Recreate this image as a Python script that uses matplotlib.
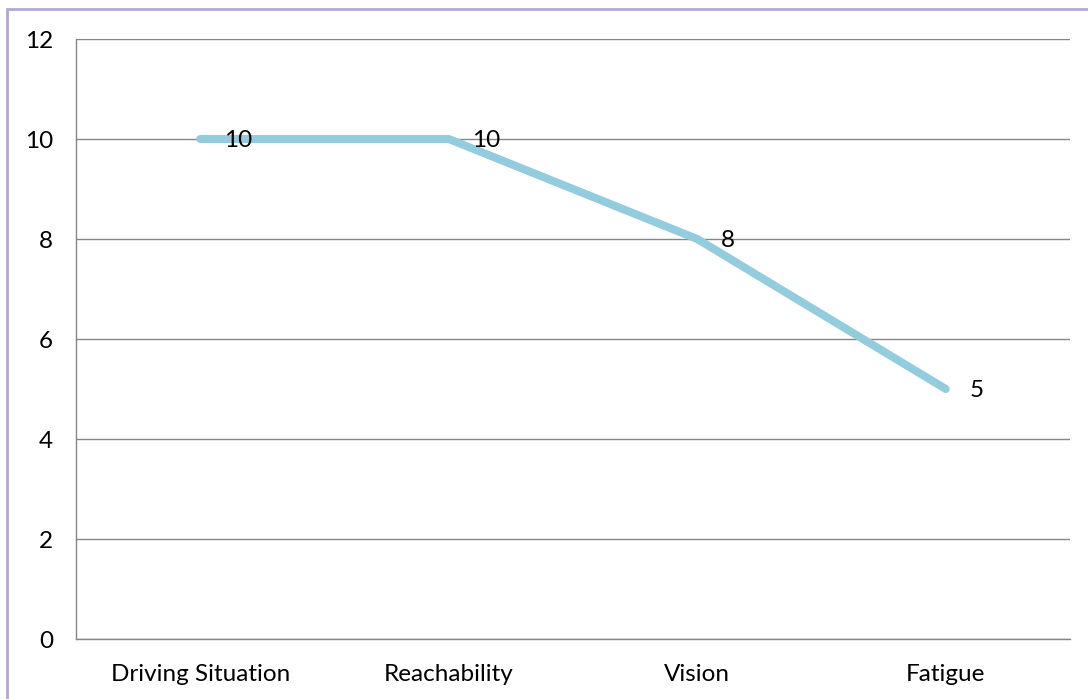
import matplotlib
matplotlib.use("Agg")
import matplotlib.pyplot as plt
from matplotlib.patches import Rectangle

categories = ["Driving Situation", "Reachability", "Vision", "Fatigue"]
values = [10, 10, 8, 5]
y_ticks = [0, 2, 4, 6, 8, 10, 12]

plt.rcParams["font.family"] = ["Lato", "DejaVu Sans"]

W, H = 1088, 699
fig = plt.figure(figsize=(W / 100, H / 100), dpi=100)
ax = fig.add_axes([76 / W, 1 - 639 / H, (1070 - 76) / W, (639 - 39) / H])

FS = 17.5
x = list(range(len(categories)))
ax.plot(x, values, color="#93CDDD", lw=5.8, solid_capstyle="round",
        solid_joinstyle="round", zorder=3)
for xi, v in zip(x, values):
    ax.annotate(str(v), (xi, v), xytext=(17, -1), textcoords="offset points",
                ha="left", va="center", fontsize=FS, color="#000000", zorder=4)

ax.set_xlim(-0.5, len(categories) - 0.5)
ax.set_ylim(0, 12)
ax.set_yticks(y_ticks)
ax.set_xticks(x)
ax.set_xticklabels(categories)
ax.tick_params(axis="both", length=0, labelsize=FS, colors="#000000")
ax.tick_params(axis="y", pad=16.5)
ax.tick_params(axis="x", pad=18)
ax.yaxis.grid(True, color="#868686", lw=1)
ax.set_axisbelow(True)
for s in ["top", "right"]:
    ax.spines[s].set_visible(False)
for s in ["left", "bottom"]:
    ax.spines[s].set_color("#868686")
    ax.spines[s].set_linewidth(1)

# chart frame
fig.patches.append(Rectangle((7 / W, -0.05), 1.1, 1 - 9 / H + 0.05,
                             transform=fig.transFigure, fill=False,
                             edgecolor="#B4A7D6", lw=2))

fig.savefig("out.png", dpi=100)
